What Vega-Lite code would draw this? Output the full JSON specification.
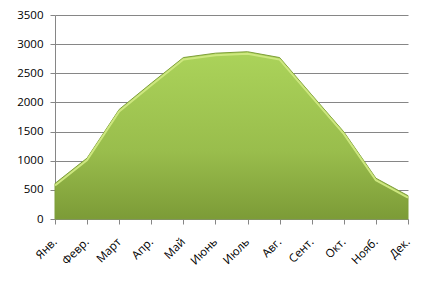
{
  "$schema": "https://vega.github.io/schema/vega-lite/v6.json",
  "width": 353,
  "height": 204,
  "autosize": {"type": "none"},
  "padding": {"left": 55, "top": 15, "right": 28, "bottom": 64},
  "background": "white",
  "config": {
    "view": {"stroke": null},
    "font": "Open Sans",
    "axis": {
      "labelFont": "Open Sans",
      "labelFontSize": 11.5,
      "labelColor": "#000000",
      "domainColor": "#868686",
      "tickColor": "#868686",
      "gridColor": "#868686",
      "tickSize": 5,
      "title": null
    }
  },
  "data": {
    "values": [
      {"month": "Янв.", "value": 610},
      {"month": "Февр.", "value": 1045},
      {"month": "Март", "value": 1880},
      {"month": "Апр.", "value": 2330},
      {"month": "Май", "value": 2770},
      {"month": "Июнь", "value": 2845},
      {"month": "Июль", "value": 2870},
      {"month": "Авг.", "value": 2770},
      {"month": "Сент.", "value": 2130},
      {"month": "Окт.", "value": 1495},
      {"month": "Нояб.", "value": 700},
      {"month": "Дек.", "value": 400}
    ]
  },
  "encoding": {
    "x": {
      "field": "month",
      "type": "ordinal",
      "sort": null,
      "scale": {"type": "point", "padding": 0},
      "axis": {
        "labelAngle": -45,
        "labelAlign": "right",
        "labelBaseline": "middle",
        "labelPadding": 16,
        "grid": false
      }
    },
    "y": {
      "field": "value",
      "type": "quantitative",
      "scale": {"domain": [0, 3500], "nice": false},
      "axis": {
        "values": [0, 500, 1000, 1500, 2000, 2500, 3000, 3500],
        "format": "d",
        "grid": true,
        "labelPadding": 7,
        "domain": true
      }
    }
  },
  "layer": [
    {
      "mark": {
        "type": "area",
        "color": {
          "gradient": "linear",
          "x1": 0, "y1": 0, "x2": 0, "y2": 1,
          "stops": [
            {"offset": 0, "color": "#abd35a"},
            {"offset": 0.6, "color": "#99bd4c"},
            {"offset": 1, "color": "#7c9b37"}
          ]
        },
        "stroke": "#7f9f3a",
        "strokeWidth": 1
      }
    },
    {
      "mark": {"type": "line", "color": "#cde77f", "strokeWidth": 2, "yOffset": 2}
    }
  ]
}
